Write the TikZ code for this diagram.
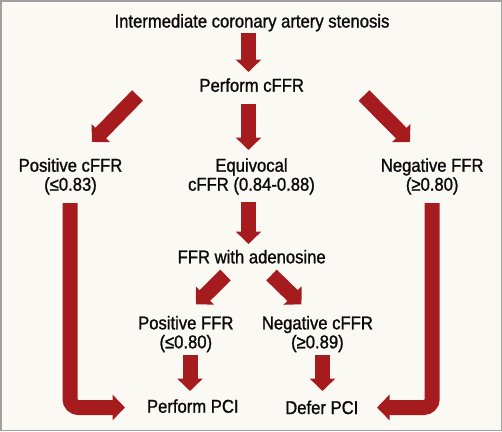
\documentclass[tikz,border=0pt]{standalone}
\usepackage{fontspec}
\setmainfont[FakeStretch=0.9,FakeBold=1.2]{Liberation Sans}
\usetikzlibrary{arrows.meta}
\definecolor{bg}{RGB}{250,249,244}
\definecolor{framegray}{RGB}{160,160,160}
\definecolor{arrowred}{RGB}{166,28,30}
\definecolor{txt}{RGB}{10,10,10}
\begin{document}
\begin{tikzpicture}[x=1pt,y=-1pt,
  lbl/.style={font=\fontsize{18.5}{19}\selectfont, text=txt, inner sep=0pt, align=center, anchor=base},
  fat/.style={draw=arrowred, line width=15pt, -{Triangle[width=25pt,length=12.5pt]}},
  fatl/.style={fat, rounded corners=8.5pt},
]
\fill[bg] (0,0) rectangle (502,431);
\draw[framegray, line width=1.5pt] (0.75,0.75) rectangle (501.25,430.25);
\useasboundingbox (0,0) rectangle (502,431);

% text nodes (two-line nodes are placed by the baseline of their last line)
\node[lbl] (title)   at (252,27.5)    {Intermediate coronary artery stenosis};
\node[lbl] (cffr)    at (251.7,91.7)  {Perform cFFR};
\node[lbl] (pos)     at (70.5,190.7)  {Positive cFFR\\(≤0.83)};
\node[lbl] (equi)    at (251.5,190.7) {Equivocal\\cFFR (0.84-0.88)};
\node[lbl] (neg)     at (432.2,190.7) {Negative FFR\\(≥0.80)};
\node[lbl] (ffr)     at (251.7,263.3) {FFR with adenosine};
\node[lbl] (posffr)  at (185.8,348.3) {Positive FFR\\(≤0.80)};
\node[lbl] (negcffr) at (317.4,348.3) {Negative cFFR\\(≥0.89)};
\node[lbl] (pci)     at (192.8,412.7) {Perform PCI};
\node[lbl] (defer)   at (321.8,414)   {Defer PCI};

% arrow end points
\coordinate (a1s) at (248.5,33);   \coordinate (a1e) at (248.5,72);
\coordinate (a2s) at (248.5,104);  \coordinate (a2e) at (248.5,150);
\coordinate (aLs) at (137.5,95.5); \coordinate (aLe) at (92,142);
\coordinate (aRs) at (364,95.5);   \coordinate (aRe) at (410,142);
\coordinate (a3s) at (248.5,202);  \coordinate (a3e) at (248.5,244);
\coordinate (bLs) at (225.5,275);  \coordinate (bLe) at (196,304.3);
\coordinate (bRs) at (271.5,275);  \coordinate (bRe) at (301.5,304.3);
\coordinate (cLs) at (190,355);    \coordinate (cLe) at (190,391);
\coordinate (cRs) at (322.5,355);  \coordinate (cRe) at (322.5,391);
\coordinate (LLs) at (70,203);     \coordinate (LLe) at (125,407.5);
\coordinate (RLs) at (432.2,203);  \coordinate (RLe) at (377,407.5);

\draw[fat] (a1s) -- (a1e);
\draw[fat] (a2s) -- (a2e);
\draw[fat] (aLs) -- (aLe);
\draw[fat] (aRs) -- (aRe);
\draw[fat] (a3s) -- (a3e);
\draw[fat] (bLs) -- (bLe);
\draw[fat] (bRs) -- (bRe);
\draw[fat] (cLs) -- (cLe);
\draw[fat] (cRs) -- (cRe);
\draw[fatl] (LLs) |- (LLe);
\draw[fatl] (RLs) |- (RLe);
\end{tikzpicture}
\end{document}
